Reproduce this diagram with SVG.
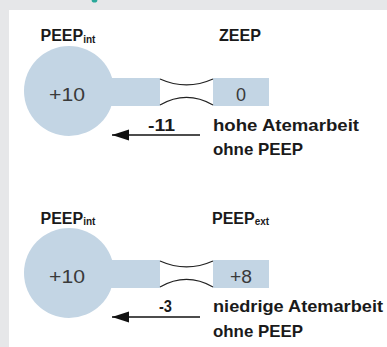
<svg xmlns="http://www.w3.org/2000/svg" width="387" height="347" viewBox="0 0 387 347">
<defs>
<style>
.lab{font-family:"Liberation Sans",Arial,sans-serif;font-weight:bold;fill:#1a1a1a}
.num{font-family:"Liberation Sans",Arial,sans-serif;fill:#3a3a3a;font-size:18px}
.sub{font-size:10px}
.blue{fill:#c3d5e4}
.cur{fill:none;stroke:#222;stroke-width:1.2}
.arr{stroke:#111;stroke-width:1.5;fill:none}
</style>
<marker id="ah" markerUnits="userSpaceOnUse" markerWidth="18" markerHeight="12" refX="17" refY="6" orient="auto">
<path d="M0,0.5 L17,6 L0,11.5 Z" fill="#111"/>
</marker>
</defs>
<rect x="0" y="0" width="387" height="347" fill="#e6e7e9"/>
<rect x="9" y="10" width="378" height="337" fill="#ffffff"/>
<ellipse cx="94.5" cy="0.5" rx="2.8" ry="2" fill="#2aa89a"/>

<g id="panel1-lung">
<circle class="blue" cx="69" cy="91" r="45"/>
<rect class="blue" x="100" y="78" width="60" height="28"/>
<text class="num" x="49" y="101" textLength="36" lengthAdjust="spacingAndGlyphs">+10</text>
<text class="lab" x="40.5" y="41" font-size="16">PEEP<tspan class="sub" dy="1.5">int</tspan></text>
</g>
<g id="panel1-airway">
<rect class="blue" x="213" y="78" width="56" height="28"/>
<text class="num" x="241" y="101" text-anchor="middle">0</text>
<text class="lab" x="219" y="41" font-size="17" textLength="42" lengthAdjust="spacingAndGlyphs">ZEEP</text>
<path class="cur" d="M160,79 C178,87 195,87 213,79"/>
<path class="cur" d="M160,105 C178,94.7 195,94.7 213,105"/>
</g>
<g id="panel1-label">
<text class="lab" x="213" y="130.7" font-size="17" textLength="146" lengthAdjust="spacingAndGlyphs">hohe Atemarbeit</text>
<text class="lab" x="213" y="155" font-size="17" textLength="90" lengthAdjust="spacingAndGlyphs">ohne PEEP</text>
<text class="lab" x="148" y="130.7" font-size="17" textLength="27" lengthAdjust="spacingAndGlyphs">-11</text>
</g>

<g id="panel2-lung">
<circle class="blue" cx="69" cy="273" r="45"/>
<rect class="blue" x="100" y="260" width="60" height="28"/>
<text class="num" x="49" y="282.5" textLength="36" lengthAdjust="spacingAndGlyphs">+10</text>
<text class="lab" x="40.5" y="223.5" font-size="16">PEEP<tspan class="sub" dy="1.5">int</tspan></text>
</g>
<g id="panel2-airway">
<rect class="blue" x="213" y="260" width="56" height="28"/>
<text class="num" x="230" y="282.5" textLength="22" lengthAdjust="spacingAndGlyphs">+8</text>
<text class="lab" x="212" y="223.5" font-size="16">PEEP<tspan class="sub" dy="1.5">ext</tspan></text>
<path class="cur" d="M160,261 C178,269 195,269 213,261"/>
<path class="cur" d="M160,287 C178,276.7 195,276.7 213,287"/>
</g>
<g id="panel2-label">
<text class="lab" x="213" y="312" font-size="17" textLength="170" lengthAdjust="spacingAndGlyphs">niedrige Atemarbeit</text>
<text class="lab" x="213" y="337" font-size="17" textLength="90" lengthAdjust="spacingAndGlyphs">ohne PEEP</text>
<text class="lab" x="159" y="312" font-size="17" textLength="13" lengthAdjust="spacingAndGlyphs">-3</text>
</g>

<g id="connectors">
<line class="arr" x1="200" y1="135" x2="112" y2="135" marker-end="url(#ah)"/>
<line class="arr" x1="200" y1="317" x2="112" y2="317" marker-end="url(#ah)"/>
</g>
</svg>
